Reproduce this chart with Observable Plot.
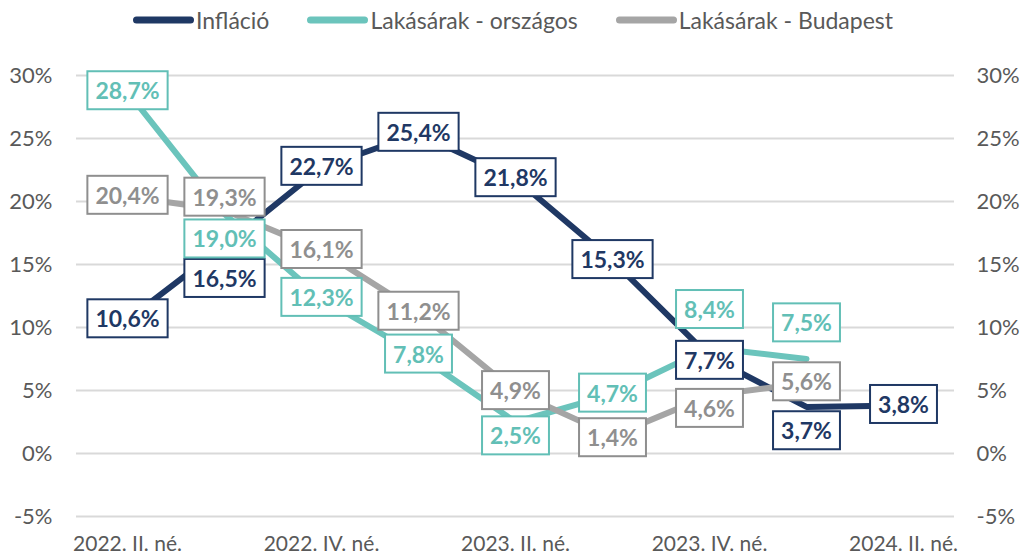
<!DOCTYPE html>
<html>
<head>
<meta charset="utf-8">
<script src="https://cdn.jsdelivr.net/npm/d3@7"></script>
<script src="https://cdn.jsdelivr.net/npm/@observablehq/plot@0.6"></script>
<style>
  html, body { margin: 0; padding: 0; background: #fff; }
  body { width: 1022px; height: 557px; overflow: hidden; font-family: Lato, sans-serif; }
  #legend { height: 40px; display: flex; justify-content: center; align-items: center; gap: 38px; font-size: 23px; color: #595959; padding-left: 4px; box-sizing: border-box; }
  .item { display: flex; align-items: center; }
  .item svg { display: block; margin-right: 2px; }
</style>
</head>
<body>
<div id="legend"></div>
<div id="chart"></div>
<script>
// ---- data ----
const quarters = ["2022. II. né.", "2022. III. né.", "2022. IV. né.", "2023. I. né.", "2023. II. né.", "2023. III. né.", "2023. IV. né.", "2024. I. né.", "2024. II. né."];
const xTickLabels = ["2022. II. né.", "2022. IV. né.", "2023. II. né.", "2023. IV. né.", "2024. II. né."];
const yTickValues = [-5, 0, 5, 10, 15, 20, 25, 30];
const seriesNames = ["Infláció", "Lakásárak - országos", "Lakásárak - Budapest"];
const inflacio = [10.6, 16.5, 22.7, 25.4, 21.8, 15.3, 7.7, 3.7, 3.8];
const lakasOrszagos = [28.7, 19.0, 12.3, 7.8, 2.5, 4.7, 8.4, 7.5];
const lakasBudapest = [20.4, 19.3, 16.1, 11.2, 4.9, 1.4, 4.6, 5.6];

// label vertical offsets (px) for the data labels
const inflacioLabelDy = [0, 34, 0, 0, 0, 0, 5, 25, 0];
const orszagosLabelDy = [0, 26, 0, 0, 15, 0, -37, -35];
const budapestLabelDy = [0, -12, 0, 0, 0, 3, 14, 0];

// ---- styles ----
const lineColors = ["#1F3864", "#6BC4BC", "#A5A5A5"];
const textColors = ["#1F3864", "#62BFB6", "#8F8F8F"];

const fmt = v => v.toFixed(1).replace(".", ",") + "%";
const valuesList = [inflacio, lakasOrszagos, lakasBudapest];
const dyList = [inflacioLabelDy, orszagosLabelDy, budapestLabelDy];

const rows = [];
valuesList.forEach((vals, s) => vals.forEach((v, i) => rows.push({s, name: seriesNames[s], q: quarters[i], v, dy: dyList[s][i], label: fmt(v)})));

// legend
const legend = document.getElementById("legend");
seriesNames.forEach((n, s) => {
  const it = document.createElement("div");
  it.className = "item";
  it.innerHTML = `<svg width="61" height="10"><line x1="3.5" x2="57.5" y1="5" y2="5" stroke="${lineColors[s]}" stroke-width="7" stroke-linecap="round"/></svg><span>${n}</span>`;
  legend.appendChild(it);
});

const lineMarks = seriesNames.map((n, s) =>
  Plot.line(rows.filter(r => r.s === s), {x: "q", y: "v", stroke: lineColors[s], strokeWidth: 6, strokeLinejoin: "round"}));

const labelMarks = rows.map(r =>
  Plot.text([r], {x: "q", y: "v", text: "label", dy: r.dy, fill: textColors[r.s], fontWeight: "bold", fontSize: 23}));

const chart = Plot.plot({
  width: 1022,
  height: 517,
  marginLeft: 76,
  marginRight: 68,
  marginTop: 35,
  marginBottom: 41,
  style: {fontFamily: "Lato, sans-serif", fontSize: "22px", color: "#595959", background: "white", overflow: "visible"},
  x: {type: "point", domain: quarters, padding: 0.5},
  y: {domain: [-5, 30]},
  marks: [
    Plot.gridY(yTickValues, {stroke: "#D9D9D9", strokeOpacity: 1, strokeWidth: 2}),
    Plot.axisY(yTickValues, {anchor: "left", tickSize: 0, tickPadding: 24, tickFormat: d => d + "%", label: null}),
    Plot.axisY(yTickValues, {anchor: "right", tickSize: 0, tickPadding: 22, tickFormat: d => d + "%", label: null}),
    Plot.axisX(xTickLabels, {anchor: "bottom", tickSize: 0, tickPadding: 20, label: null, fontSize: 21}),
    ...lineMarks,
    ...labelMarks
  ]
});
document.getElementById("chart").appendChild(chart);

// boxes behind data labels
chart.querySelectorAll('g[aria-label="text"]').forEach(g => {
  const col = g.getAttribute("fill");
  g.querySelectorAll("text").forEach(t => {
    const b = t.getBBox();
    const padX = 8, padY = 5;
    const rect = document.createElementNS("http://www.w3.org/2000/svg", "rect");
    rect.setAttribute("x", b.x - padX);
    rect.setAttribute("y", b.y - padY);
    rect.setAttribute("width", b.width + 2 * padX);
    rect.setAttribute("height", b.height + 2 * padY);
    rect.setAttribute("fill", "white");
    rect.setAttribute("stroke", col);
    rect.setAttribute("stroke-width", 2);
    if (t.getAttribute("transform")) rect.setAttribute("transform", t.getAttribute("transform"));
    g.insertBefore(rect, t);
  });
});
</script>
</body>
</html>
